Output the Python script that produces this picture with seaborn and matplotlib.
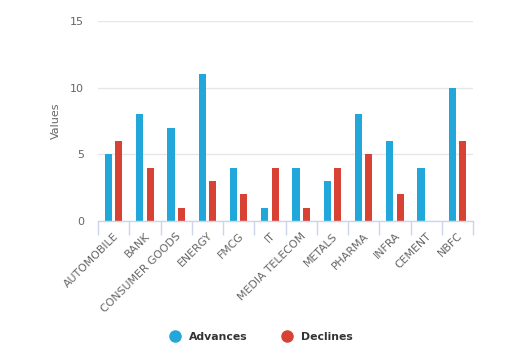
import pandas as pd
import numpy as np
import matplotlib
matplotlib.use('Agg')
import matplotlib.pyplot as plt
import seaborn as sns
from matplotlib.ticker import FixedLocator
from matplotlib.lines import Line2D

# Data
sectors = ['AUTOMOBILE', 'BANK', 'CONSUMER GOODS', 'ENERGY', 'FMCG', 'IT',
           'MEDIA TELECOM', 'METALS', 'PHARMA', 'INFRA', 'CEMENT', 'NBFC']
advances = [5, 8, 7, 11, 4, 1, 4, 3, 8, 6, 4, 10]
declines = [6, 4, 1, 3, 2, 4, 1, 4, 5, 2, 0, 6]
series_names = ['Advances', 'Declines']
colors = ['#22a7da', '#d84234']

df = pd.DataFrame({
    'Sector': sectors * 2,
    'Series': [series_names[0]] * len(sectors) + [series_names[1]] * len(sectors),
    'Value': advances + declines,
})

sns.set_style('white')
plt.rcParams['font.family'] = ['DejaVu Sans']

fig = plt.figure(figsize=(5.17, 3.55), dpi=100)
ax = fig.add_axes([0.1896, 0.3775, 0.7254, 0.5633])

sns.barplot(data=df, x='Sector', y='Value', hue='Series', palette=colors,
            width=0.66, gap=0.31, ax=ax, legend=False, saturation=1,
            linewidth=0, edgecolor='none')

ax.set_xlim(-0.5, len(sectors) - 0.5)
ax.set_ylim(0, 15)
ax.set_yticks([0, 5, 10, 15])
ax.yaxis.grid(True, color='#e6e6e6', linewidth=1)
ax.set_axisbelow(True)

for s in ['top', 'right', 'left']:
    ax.spines[s].set_visible(False)
ax.spines['bottom'].set_color('#ccd6eb')
ax.spines['bottom'].set_linewidth(1)

ax.tick_params(axis='y', length=0, labelsize=8, labelcolor='#666666', pad=10)
ax.tick_params(axis='x', which='major', bottom=True, length=0, labelsize=7.8,
               labelcolor='#666666', pad=7)
ax.xaxis.set_minor_locator(FixedLocator(np.arange(-0.5, len(sectors), 1)))
ax.tick_params(axis='x', which='minor', bottom=True, direction='out',
               length=10, color='#ccd6eb', width=1)
plt.setp(ax.get_xticklabels(), rotation=45, ha='right', rotation_mode='anchor')

ax.set_xlabel('')
ax.set_ylabel('Values', color='#666666', fontsize=8, labelpad=7)

handles = [Line2D([], [], marker='o', linestyle='', markersize=8,
                  markerfacecolor=c, markeredgecolor=c) for c in colors]
leg = fig.legend(handles, series_names, loc='center', bbox_to_anchor=(0.5, 0.05),
                 ncol=2, frameon=False, handletextpad=0.3, columnspacing=2.6,
                 prop={'weight': 'bold', 'size': 7.8})
for t in leg.get_texts():
    t.set_color('#333333')

fig.savefig('out.png', dpi=100)
